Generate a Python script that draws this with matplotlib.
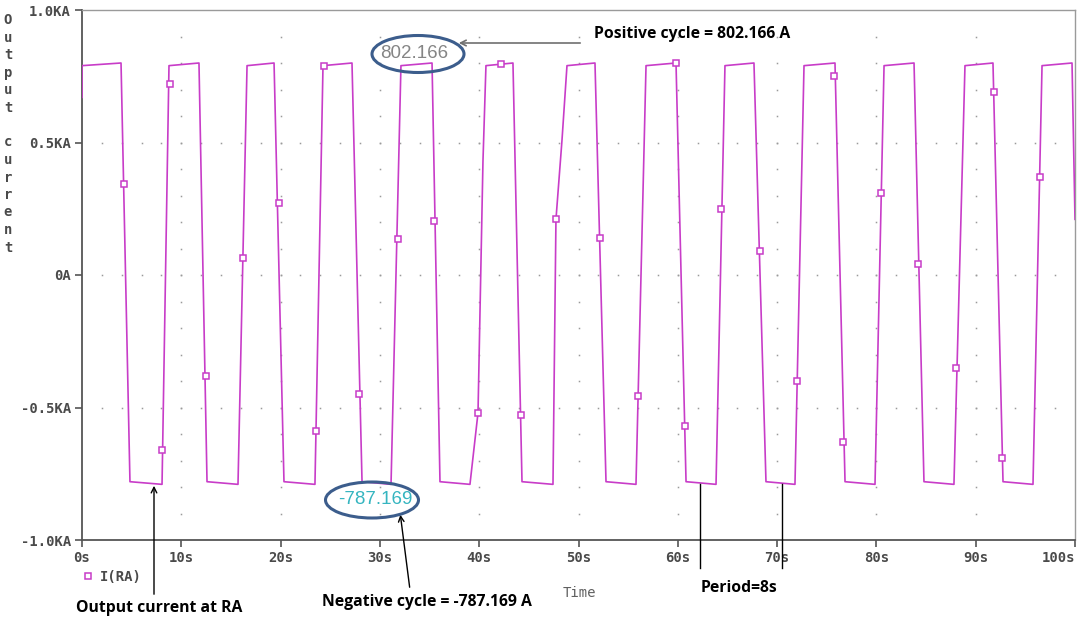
import matplotlib.pyplot as plt
import numpy as np
from matplotlib.patches import Ellipse
from matplotlib.lines import Line2D

# waveform (time in s, current in kA)
pos_on = [0.0, 8.76, 16.62, 24.27, 32.12, 40.68, 48.84, 56.80, 64.75, 72.71, 80.77, 88.92, 96.68]
pos_off = [3.93, 11.78, 19.34, 27.19, 35.25, 43.40, 51.66, 59.82, 67.67, 75.83, 83.79, 91.74, 99.70]
neg_on = [4.83, 12.59, 20.34, 28.20, 36.05, 44.31, 52.77, 60.83, 68.88, 76.84, 84.79, 92.75]
neg_off = [8.06, 15.71, 23.46, 31.12, 39.07, 47.43, 55.79, 63.85, 71.80, 79.86, 87.81, 95.77]
pos_level = (0.79, 0.80)
neg_level = (-0.78, -0.79)
start_val = 0.67
end_val = 0.21

# a few bent edges
knee_t = [39.88, 40.38, 47.73, 48.34]
knee_i = [-0.52, 0.43, 0.21, 0.51]

# sample markers drawn by the simulator
mark_t = [4.23, 8.86, 8.06, 12.49, 16.21, 19.84, 23.56, 24.37, 27.90, 31.82,
          35.45, 39.88, 42.20, 44.21, 47.73, 52.17, 55.99, 59.82, 60.72, 64.35,
          68.28, 72.00, 75.73, 76.64, 80.46, 84.19, 88.02, 91.84, 92.65, 96.48]
mark_i = [0.343, 0.72, -0.66, -0.38, 0.064, 0.27, -0.59, 0.79, -0.45, 0.136,
          0.204, -0.52, 0.796, -0.53, 0.21, 0.14, -0.457, 0.80, -0.57, 0.25,
          0.09, -0.40, 0.75, -0.63, 0.31, 0.04, -0.35, 0.69, -0.69, 0.37]

x_ticks = [0, 10, 20, 30, 40, 50, 60, 70, 80, 90, 100]
x_labels = ['0s', '10s', '20s', '30s', '40s', '50s', '60s', '70s', '80s', '90s', '100s']
y_ticks = [-1.0, -0.5, 0.0, 0.5, 1.0]
y_labels = ['-1.0KA', '-0.5KA', '0A', '0.5KA', '1.0KA']

# build the polyline
t = [0.0]
cur = [start_val]
for k in range(len(pos_on)):
    t += [pos_on[k], pos_off[k]]
    cur += list(pos_level)
    if k < len(neg_on):
        t += [neg_on[k], neg_off[k]]
        cur += list(neg_level)
t.append(100.0)
cur.append(end_val)
t = np.array(t + knee_t)
cur = np.array(cur + knee_i)
order = np.argsort(t, kind='stable')
t, cur = t[order], cur[order]

W, H = 1078, 619
wave_col = '#c83cc8'
txt_col = '#4a4a4a'
mono = 'DejaVu Sans Mono'


def fp(x, y):
    # pixel (from top-left) -> figure fraction
    return (x / W, 1 - y / H)


fig = plt.figure(figsize=(W / 100, H / 100), dpi=100)
ax = fig.add_axes([82 / W, 1 - 540 / H, (1075 - 82) / W, 530 / H])

# dotted grid like the simulator
gx = np.arange(2, 100, 2)
for yv in [-0.5, 0.0, 0.5]:
    ax.plot(gx, np.full(len(gx), yv), ls='none', marker='s', ms=1.1, color='#9a9a9a', mew=0)
gy = np.round(np.arange(-0.9, 0.95, 0.1), 2)
for xv in range(10, 100, 10):
    ax.plot(np.full(len(gy), xv), gy, ls='none', marker='s', ms=1.1, color='#9a9a9a', mew=0)

ax.plot(t, cur, color=wave_col, lw=1.2, zorder=3)
ax.plot(mark_t, mark_i, ls='none', marker='s', ms=4.2, mfc='white', mec=wave_col, mew=1.1, zorder=4)

ax.set_xlim(0, 100)
ax.set_ylim(-1, 1)
ax.set_xticks(x_ticks)
ax.set_xticklabels(x_labels)
ax.set_yticks(y_ticks)
ax.set_yticklabels(y_labels)
ax.tick_params(direction='out', length=5, width=1.2, color='#555555', labelcolor=txt_col,
               labelsize=10, pad=3)
for lab in ax.get_xticklabels() + ax.get_yticklabels():
    lab.set_fontfamily(mono)
    lab.set_fontweight('bold')
ax.get_xticklabels()[-1].set_horizontalalignment('right')
for s in ['left', 'bottom']:
    ax.spines[s].set_color('#555555')
    ax.spines[s].set_linewidth(1.3)
for s in ['top', 'right']:
    ax.spines[s].set_color('#9a9a9a')
    ax.spines[s].set_linewidth(1.0)

# axis titles
ylab = 'Output current'
for k, ch in enumerate(ylab):
    fig.text(*fp(8, 20 + 17.5 * k), ch, ha='center', va='center', family=mono,
             weight='bold', fontsize=10, color=txt_col)
fig.text(*fp(579, 593), 'Time', ha='center', va='center', family=mono, fontsize=10, color='#606060')

ax.legend(handles=[Line2D([], [], ls='none', marker='s', mfc='white', mec=wave_col, ms=4.2, mew=1.1)],
          labels=['I(RA)'], loc='center left', bbox_to_anchor=fp(82, 577),
          bbox_transform=fig.transFigure, frameon=False, handlelength=0.8, handletextpad=0.5,
          borderpad=0, borderaxespad=0,
          prop={'family': mono, 'weight': 'bold', 'size': 10})
leg = ax.get_legend()
for tx in leg.get_texts():
    tx.set_color(txt_col)

# circled readouts
fig.add_artist(Ellipse(fp(418, 54), 92 / W, 37 / H, transform=fig.transFigure,
                       fill=False, ec='#3c5d8c', lw=2.2))
fig.text(*fp(414, 54), '802.166', ha='center', va='center', family='Liberation Sans',
         fontsize=13.5, color='#858585')
fig.add_artist(Ellipse(fp(372, 500), 93 / W, 36 / H, transform=fig.transFigure,
                       fill=False, ec='#3c5d8c', lw=2.2))
fig.text(*fp(375, 500), '-787.169', ha='center', va='center', family='Liberation Sans',
         fontsize=13.5, color='#35b5c0')

# callouts
bold = {'family': 'Open Sans', 'weight': 'bold', 'fontsize': 11.3, 'color': 'black'}
fig.text(*fp(594, 34), 'Positive cycle = 802.166 A', ha='left', va='center', **bold)
fig.text(*fp(322, 602), 'Negative cycle = -787.169 A', ha='left', va='center', **bold)
fig.text(*fp(76, 608), 'Output current at RA', ha='left', va='center', **bold)
fig.text(*fp(701, 588), 'Period=8s', ha='left', va='center', **bold)

ax.annotate('', xy=fp(456, 43), xytext=fp(583, 43), xycoords='figure fraction',
            arrowprops=dict(arrowstyle='->', color='#707070', lw=1.2))
ax.annotate('', xy=fp(400, 512), xytext=fp(410, 590), xycoords='figure fraction',
            arrowprops=dict(arrowstyle='->', color='black', lw=1.0))
ax.annotate('', xy=fp(154, 483), xytext=fp(154, 597), xycoords='figure fraction',
            arrowprops=dict(arrowstyle='->', color='black', lw=1.0))
for px in [700, 782]:
    fig.add_artist(Line2D([px / W, px / W], [1 - 484 / H, 1 - 568 / H], color='black', lw=1.0))

fig.savefig('out.png', dpi=100)
